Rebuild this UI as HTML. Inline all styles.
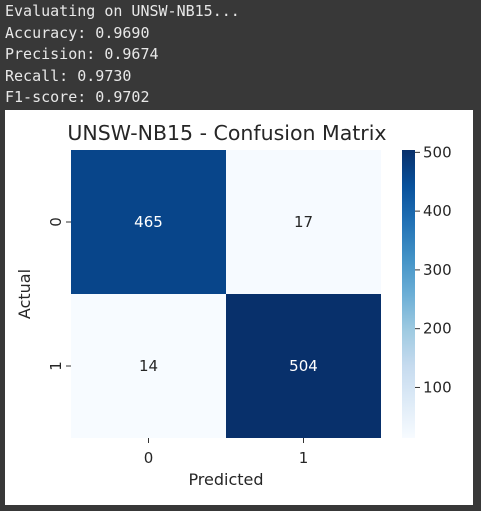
<!DOCTYPE html>
<html><head><meta charset="utf-8"><style>
body{margin:0;width:481px;height:511px;background:#383838;overflow:hidden;position:relative;font-family:"DejaVu Sans","Liberation Sans",sans-serif}
.out{position:absolute;left:5px;top:1px;font-family:"DejaVu Sans Mono","Liberation Mono",monospace;font-size:15px;color:#e8e8e8;line-height:21.5px;white-space:pre}
svg{position:absolute;left:5px;top:110px}
</style></head><body>
<div class="out">Evaluating on UNSW-NB15...
Accuracy: 0.9690
Precision: 0.9674
Recall: 0.9730
F1-score: 0.9702</div>
<svg id="chart" width="468" height="395"></svg>
<script>
const rowLabels=["0","1"];
const colLabels=["0","1"];
const values=[[465,17],[14,504]];
const cbTicks=[100,200,300,400,500];
const vmin=14, vmax=504;
const NS="http://www.w3.org/2000/svg";
const svg=document.getElementById('chart');
function el(t,a,p){const e=document.createElementNS(NS,t);for(const k in a)e.setAttribute(k,a[k]);(p||svg).appendChild(e);return e;}
const stops=[[0,[247,251,255]],[0.125,[222,235,247]],[0.25,[198,219,239]],[0.375,[158,202,225]],[0.5,[107,174,214]],[0.625,[66,146,198]],[0.75,[33,113,181]],[0.875,[8,81,156]],[1,[8,48,107]]];
function cmap(v){let t=Math.max(0,Math.min(1,(v-vmin)/(vmax-vmin)));for(let i=1;i<stops.length;i++){if(t<=stops[i][0]){const a=stops[i-1],b=stops[i];const f=(t-a[0])/(b[0]-a[0]);const c=a[1].map((x,j)=>Math.round(x+(b[1][j]-x)*f));return `rgb(${c})`;}}return 'rgb(8,48,107)';}
el('rect',{x:0,y:0,width:468,height:395,fill:'#fff'});
const X0=66,Y0=40,W=310,H=288;
const cw=W/colLabels.length, ch=H/rowLabels.length;
const xc=i=>X0+cw*(i+0.5), yc=i=>Y0+ch*(i+0.5);
const t=el('text',{x:X0+W/2+1,y:30,'text-anchor':'middle','font-size':20.5,fill:'#262626'});t.textContent='UNSW-NB15 - Confusion Matrix';


values.forEach((row,r)=>row.forEach((v,c)=>{
 const rc=el('rect',{x:X0+cw*c,y:Y0+ch*r,width:cw,height:ch,fill:cmap(v)});
 
 
 const tx=el('text',{x:xc(c),y:yc(r)+5,'text-anchor':'middle','font-size':15,fill:((v-vmin)/(vmax-vmin)>0.5)?'#fff':'#262626'});tx.textContent=v;
 
 
}));
rowLabels.forEach((l,i)=>{
 el('line',{x1:X0-5,x2:X0,y1:yc(i),y2:yc(i),stroke:'#333'});
 const tx=el('text',{x:0,y:0,'text-anchor':'middle','font-size':15,fill:'#262626',transform:`translate(${X0-10},${yc(i)}) rotate(-90)`});tx.textContent=l;
 
 
});
colLabels.forEach((l,i)=>{
 el('line',{x1:xc(i),x2:xc(i),y1:Y0+H,y2:Y0+H+5,stroke:'#333'});
 const tx=el('text',{x:xc(i),y:Y0+H+25,'text-anchor':'middle','font-size':15,fill:'#262626'});tx.textContent=l;
 
 
});
const xl=el('text',{x:X0+W/2,y:Y0+H+47,'text-anchor':'middle','font-size':16,fill:'#262626'});xl.textContent='Predicted';


const yl=el('text',{x:0,y:0,'text-anchor':'middle','font-size':16,fill:'#262626',transform:`translate(25,${Y0+H/2}) rotate(-90)`});yl.textContent='Actual';


const CX=397,CW=13,CY0=40,CY1=328;
const defs=el('defs',{});const g=el('linearGradient',{id:'cb',x1:0,y1:1,x2:0,y2:0},defs);
stops.forEach(s=>el('stop',{offset:s[0],'stop-color':`rgb(${s[1]})`},g));
const cb=el('rect',{x:CX,y:CY0,width:CW,height:CY1-CY0,fill:'url(#cb)'});


const cy=v=>CY1-(v-vmin)/(vmax-vmin)*(CY1-CY0);
cbTicks.forEach(v=>{
 el('line',{x1:CX+CW,x2:CX+CW+5,y1:cy(v),y2:cy(v),stroke:'#333'});
 const tx=el('text',{x:CX+CW+8,y:cy(v)+5,'font-size':15,fill:'#262626'});tx.textContent=v;
 
 
});
</script>
</body></html>
